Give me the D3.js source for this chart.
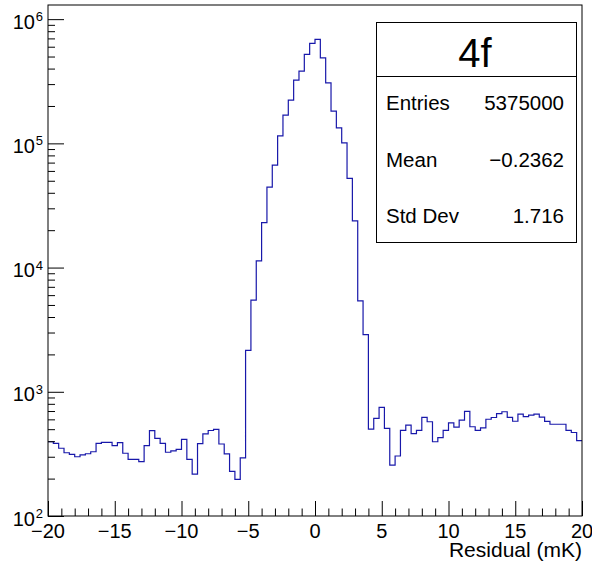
<!DOCTYPE html>
<html>
<head>
<meta charset="utf-8">
<script src="https://cdn.jsdelivr.net/npm/d3@7"></script>
<style>
  body { margin: 0; background: #fff; }
  svg { display: block; }
  text { font-family: "Liberation Sans", Arial, Helvetica, sans-serif; fill: #000; }
</style>
</head>
<body>
<svg id="chart" width="592" height="564"></svg>
<script>
// Histogram of residuals: 100 bins from -20 to 20 mK
const xMin = -20, xMax = 20, nBins = 100;
const counts = [
  396, 385, 351, 323, 314, 300, 310, 317, 329, 385,
  392, 392, 368, 389, 320, 286, 286, 274, 369, 486,
  422, 385, 326, 334, 344, 414, 286, 217, 382, 459,
  488, 499, 380, 316, 229, 197, 294, 2156, 5475, 11320,
  23030, 44450, 66830, 114800, 168800, 222900, 322900, 381500, 519900, 637500,
  687900, 488200, 307200, 181800, 133400, 101000, 52220, 23810, 5395, 2889,
  500, 611, 750, 508, 257, 304, 489, 540, 461, 489,
  623, 574, 396, 428, 489, 563, 520, 592, 696, 523,
  489, 513, 601, 621, 666, 691, 623, 579, 662, 630,
  650, 662, 626, 578, 548, 548, 548, 489, 470, 404
];
const xTicks = [-20, -15, -10, -5, 0, 5, 10, 15, 20];
const yDecades = [1e2, 1e3, 1e4, 1e5, 1e6];
const yMax = 1.3e6;
const histName = "4f";
const statLabels = ["Entries", "Mean", "Std Dev"];
const statValues = ["5375000", "\u22120.2362", "1.716"];
const xTitle = "Residual (mK)";

const svg = d3.select("#chart");
const L = 48, R = 582, T = 5, B = 516;

const x = d3.scaleLinear().domain([xMin, xMax]).range([L, R]);
const y = d3.scaleLog().domain([yDecades[0], yMax]).range([B, T]);

const binW = (xMax - xMin) / nBins;
const pts = counts.map((c, i) => [xMin + i * binW, c]);
pts.push([xMax, counts[counts.length - 1]]);

// histogram outline
svg.append("path")
  .attr("d", d3.line().x(d => x(d[0])).y(d => y(d[1])).curve(d3.curveStepAfter)(pts))
  .attr("fill", "none")
  .attr("stroke", "#1818aa")
  .attr("stroke-width", 1.2);

// x axis: major and minor ticks pointing up into the frame
const xMinor = d3.range(xMin, xMax + 1, 1).filter(v => !xTicks.includes(v));
svg.append("g").attr("transform", `translate(0,${B})`)
  .call(d3.axisBottom(x).tickValues(xMinor).tickSize(-7.5).tickFormat(""))
  .call(g => g.select(".domain").remove());
svg.append("g").attr("transform", `translate(0,${B})`)
  .call(d3.axisBottom(x).tickValues(xTicks).tickSize(-15).tickFormat(""))
  .call(g => g.select(".domain").remove());
svg.selectAll("line").attr("stroke", "#000");

svg.append("g").selectAll("text").data(xTicks).join("text")
  .attr("x", d => x(d))
  .attr("y", 538)
  .attr("text-anchor", "middle")
  .attr("font-size", 20)
  .text(d => d3.format("d")(d));

// y axis: log ticks
const yMinor = [];
yDecades.forEach(d => { for (let k = 2; k <= 9; k++) if (d * k < yMax) yMinor.push(d * k); });
svg.append("g").attr("transform", `translate(${L},0)`)
  .call(d3.axisLeft(y).tickValues(yMinor).tickSize(-7).tickFormat(""))
  .call(g => g.select(".domain").remove());
svg.append("g").attr("transform", `translate(${L},0)`)
  .call(d3.axisLeft(y).tickValues(yDecades).tickSize(-16).tickFormat(""))
  .call(g => g.select(".domain").remove());
svg.selectAll("line").attr("stroke", "#000");

const yl = svg.append("g").selectAll("g").data(yDecades).join("g")
  .attr("transform", d => `translate(43,${y(d)})`);
yl.append("text")
  .attr("text-anchor", "end")
  .attr("y", 2)
  .attr("font-size", 13)
  .text(d => Math.round(Math.log10(d)));
yl.append("text")
  .attr("x", -8)
  .attr("y", 9.5)
  .attr("text-anchor", "end")
  .attr("font-size", 20)
  .text("10");

// frame
svg.append("rect")
  .attr("x", L).attr("y", T).attr("width", R - L).attr("height", B - T)
  .attr("fill", "none").attr("stroke", "#000").attr("stroke-width", 1);

// axis title
svg.append("text")
  .attr("x", R).attr("y", 557)
  .attr("text-anchor", "end")
  .attr("font-size", 21)
  .text(xTitle);

// statistics box
const sb = { x: 376.5, y: 22.5, w: 200, h: 220, sep: 54 };
const box = svg.append("g");
box.append("rect")
  .attr("x", sb.x).attr("y", sb.y).attr("width", sb.w).attr("height", sb.h)
  .attr("fill", "#fff").attr("stroke", "#000").attr("stroke-width", 1);
box.append("line")
  .attr("x1", sb.x).attr("x2", sb.x + sb.w)
  .attr("y1", sb.y + sb.sep).attr("y2", sb.y + sb.sep)
  .attr("stroke", "#000");
box.append("text")
  .attr("x", 475).attr("y", 67)
  .attr("text-anchor", "middle")
  .attr("font-size", 40)
  .text(histName);
const rowY = [110, 166.5, 222.5];
box.selectAll("text.lab").data(statLabels).join("text").attr("class", "lab")
  .attr("x", 386).attr("y", (d, i) => rowY[i])
  .attr("font-size", 20.5)
  .text(d => d);
box.selectAll("text.val").data(statValues).join("text").attr("class", "val")
  .attr("x", 564).attr("y", (d, i) => rowY[i])
  .attr("text-anchor", "end")
  .attr("font-size", 20.5)
  .text(d => d);
</script>
</body>
</html>
